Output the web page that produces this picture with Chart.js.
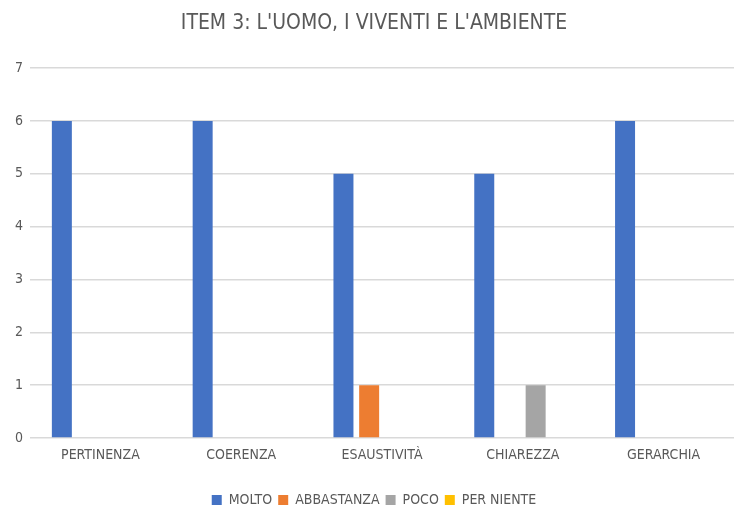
<!DOCTYPE html>
<html>
<head>
<meta charset="utf-8">
<script src="https://cdn.jsdelivr.net/npm/chart.js@4"></script>
<style>
  html, body { margin: 0; padding: 0; background: #fff; }
  #wrap { width: 737px; height: 511px; }
</style>
</head>
<body>
<div id="wrap"><canvas id="grafico"></canvas></div>
<script>
const categorie = ['PERTINENZA', 'COERENZA', 'ESAUSTIVITÀ', 'CHIAREZZA', 'GERARCHIA'];
const molto = [6, 6, 5, 5, 6];
const abbastanza = [0, 0, 1, 0, 0];
const poco = [0, 0, 0, 1, 0];
const perNiente = [0, 0, 0, 0, 0];
const tickY = [0, 1, 2, 3, 4, 5, 6, 7];

const FONT = "'Liberation Sans Narrow', 'DejaVu Sans Condensed', sans-serif";
const GRIGIO = '#595959';

const ctx = document.getElementById('grafico').getContext('2d');
new Chart(ctx, {
    type: 'bar',
    data: {
        labels: categorie,
        datasets: [
            { label: 'MOLTO', data: molto, backgroundColor: '#4472C4' },
            { label: 'ABBASTANZA', data: abbastanza, backgroundColor: '#ED7D31' },
            { label: 'POCO', data: poco, backgroundColor: '#A5A5A5' },
            { label: 'PER NIENTE', data: perNiente, backgroundColor: '#FFC000' }
        ]
    },
    options: {
        responsive: true,
        maintainAspectRatio: false,
        animation: false,
        // left 14 + asse y 16 = area del grafico da x=30; titolo e legenda un po' a destra come nell'originale
        layout: { padding: { left: 14, right: 3, top: 11, bottom: -6 } },
        datasets: { bar: { categoryPercentage: 0.73, barPercentage: 0.778 } },
        plugins: {
            title: {
                display: true,
                text: "ITEM 3: L'UOMO, I VIVENTI E L'AMBIENTE",
                color: GRIGIO,
                font: { family: FONT, size: 21, weight: 'normal' },
                padding: { top: 0, bottom: 32 }
            },
            legend: {
                position: 'bottom',
                labels: {
                    color: GRIGIO,
                    font: { family: FONT, size: 14 },
                    boxWidth: 10,
                    boxHeight: 10,
                    padding: 6
                }
            },
            tooltip: { enabled: false }
        },
        scales: {
            x: {
                afterFit: s => { s.height = 49; },
                grid: { display: false },
                border: { display: false },
                ticks: { color: GRIGIO, font: { family: FONT, size: 14 }, padding: 1 }
            },
            y: {
                min: 0,
                max: 7,
                afterFit: s => { s.width = 16; },
                afterBuildTicks: s => { s.ticks = tickY.map(v => ({ value: v })); },
                grid: { color: '#D9D9D9', lineWidth: 1.5, drawTicks: false },
                border: { display: false },
                ticks: { color: GRIGIO, font: { family: FONT, size: 14 }, padding: 7 }
            }
        }
    }
});
</script>
</body>
</html>
